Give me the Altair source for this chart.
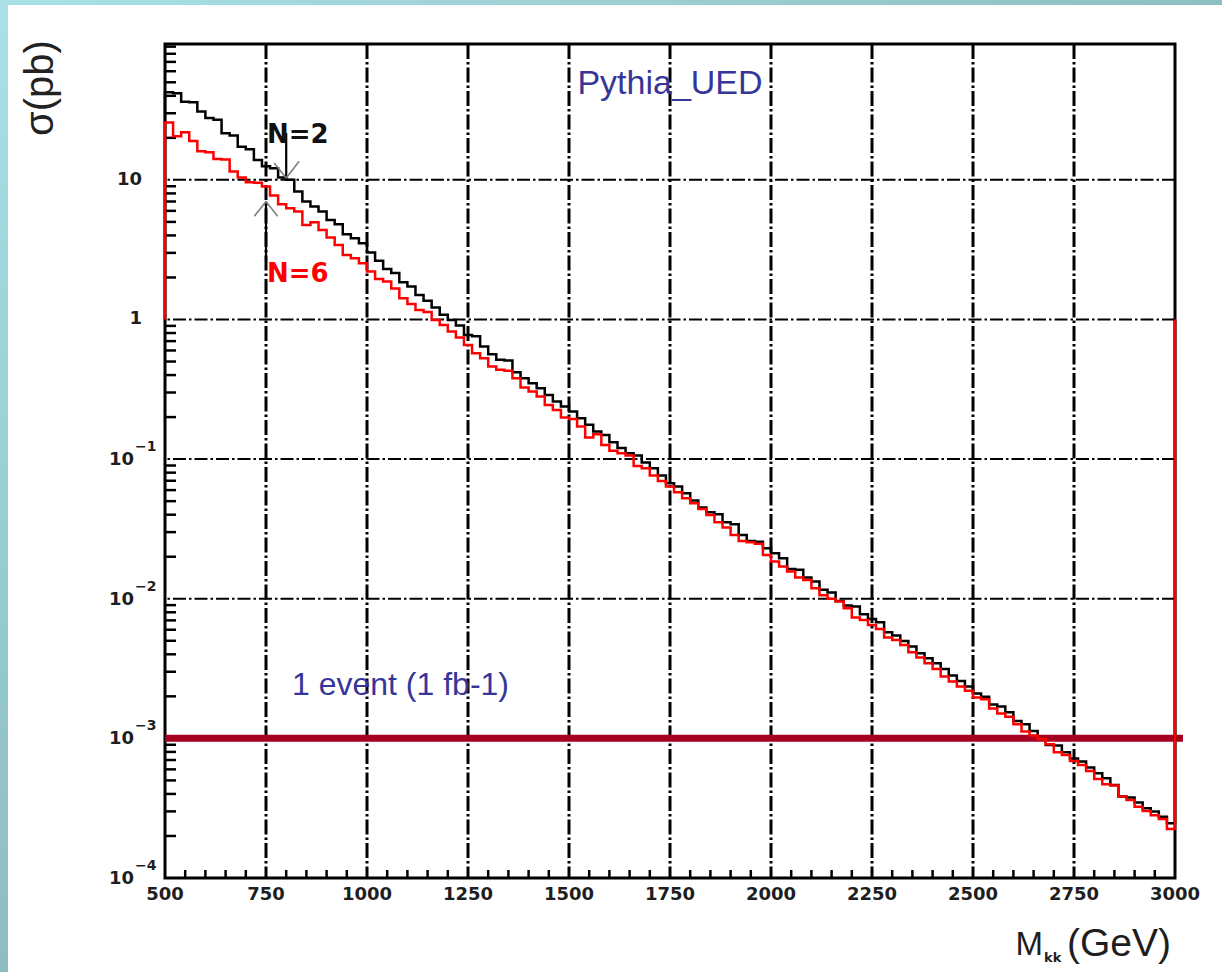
import altair as alt
import pandas as pd

# ---------------- data ----------------
bin_width = 20
bin_lo = list(range(500, 3000, bin_width))          # 125 bins, 500-3000 GeV

# N=2 (black) cross section per bin, pb
sigma_n2 = [
    42.5, 41.8, 36.3, 36.0, 30.9, 27.7, 26.9, 21.6, 20.8, 17.3,
    16.6, 13.9, 12.5, 12.1, 10.4, 10.0, 8.26, 7.00, 6.44, 5.94,
    5.17, 4.82, 4.08, 3.82, 3.52, 3.02, 2.63, 2.30, 2.15, 1.85,
    1.72, 1.50, 1.36, 1.22, 1.08, 0.993, 0.906, 0.776, 0.760, 0.641,
    0.564, 0.514, 0.508, 0.419, 0.380, 0.350, 0.322, 0.288, 0.259, 0.238,
    0.219, 0.196, 0.176, 0.158, 0.149, 0.132, 0.120, 0.110, 0.106, 0.0946,
    0.0861, 0.0764, 0.0673, 0.0637, 0.0570, 0.0505, 0.0450, 0.0417, 0.0403, 0.0353,
    0.0342, 0.0286, 0.0259, 0.0256, 0.0230, 0.0212, 0.0195, 0.0163, 0.0161, 0.0142,
    0.0133, 0.0116, 0.0111, 0.00964, 0.00893, 0.00879, 0.00774, 0.00716, 0.00679, 0.00575,
    0.00545, 0.00499, 0.00455, 0.00407, 0.00375, 0.00345, 0.00314, 0.00282, 0.00258, 0.00235,
    0.00210, 0.00199, 0.00175, 0.00169, 0.00154, 0.00133, 0.00126, 0.00113, 0.000991, 0.000897,
    0.000890, 0.000794, 0.000719, 0.000682, 0.000618, 0.000562, 0.000518, 0.000463, 0.000383, 0.000377,
    0.000348, 0.000316, 0.000299, 0.000275, 0.000247,
]

# N=6 (red) cross section per bin, pb
sigma_n6 = [
    25.8, 20.5, 21.9, 19.0, 16.0, 15.8, 14.1, 14.0, 11.5, 10.4,
    9.63, 9.55, 8.97, 7.73, 6.70, 6.27, 5.94, 4.76, 4.98, 4.38,
    3.87, 3.42, 2.90, 2.75, 2.53, 2.21, 1.95, 1.87, 1.67, 1.42,
    1.29, 1.17, 1.13, 0.993, 0.914, 0.820, 0.743, 0.658, 0.574, 0.528,
    0.460, 0.436, 0.430, 0.380, 0.326, 0.305, 0.281, 0.244, 0.225, 0.199,
    0.194, 0.171, 0.143, 0.151, 0.126, 0.115, 0.110, 0.106, 0.0893, 0.0861,
    0.0764, 0.0698, 0.0637, 0.0579, 0.0525, 0.0483, 0.0440, 0.0398, 0.0353, 0.0324,
    0.0286, 0.0259, 0.0254, 0.0248, 0.0206, 0.0185, 0.0170, 0.0157, 0.0142, 0.0136,
    0.0119, 0.0106, 0.00998, 0.00955, 0.00855, 0.00733, 0.00705, 0.00649, 0.00608, 0.00527,
    0.00507, 0.00467, 0.00414, 0.00379, 0.00345, 0.00314, 0.00277, 0.00255, 0.00235, 0.00219,
    0.00196, 0.00191, 0.00164, 0.00151, 0.00143, 0.00126, 0.00112, 0.00105, 0.000991, 0.000908,
    0.000794, 0.000760, 0.000689, 0.000644, 0.000583, 0.000512, 0.000469, 0.000459, 0.000383, 0.000362,
    0.000324, 0.000302, 0.000282, 0.000265, 0.000224,
]

x_tick_values = [500, 750, 1000, 1250, 1500, 1750, 2000, 2250, 2500, 2750, 3000]
x_tick_text = ["500", "750", "1000", "1250", "1500", "1750", "2000", "2250", "2500", "2750", "3000"]
y_plain_values = [1, 10]
y_plain_text = ["1", "10"]
y_exp_values = [1e-4, 1e-3, 1e-2, 1e-1]
y_exp_base = ["10", "10", "10", "10"]
y_exp_power = ["−4", "−3", "−2", "−1"]
x_grid = [750, 1000, 1250, 1500, 1750, 2000, 2250, 2500, 2750]
y_grid = [1e-3, 1e-2, 1e-1, 1, 10]
x_minor = [v for v in range(550, 3000, 50) if v % 250]
y_minor = [k * 10.0 ** e for e in range(-4, 2) for k in range(2, 10) if k * 10.0 ** e < 94]
one_event = [1e-3]
histo_base = 1.0

title_text = ["Pythia_UED"]
event_text = ["1 event (1 fb-1)"]

# annotation arrows (GeV, pb)
arrow_n2 = {"x": [800], "y": [21.6], "x2": [800], "y2": [10.3]}
arrow_n6 = {"x": [750], "y": [2.66], "x2": [750], "y2": [7.0]}
heads = {"x": [800, 800, 750, 750], "y": [10.3, 10.3, 7.0, 7.0],
         "x2": [770, 832, 721, 779], "y2": [13.2, 13.6, 5.5, 5.5]}

# ---------------- helpers ----------------
XS = alt.Scale(domain=[500, 3000], nice=False, zero=False)
YS = alt.Scale(type="log", domain=[1e-4, 94], nice=False)
LABEL_STYLE = dict(font="DejaVu Sans", fontWeight="bold", fontSize=18, color="#1e1e1e")


def step_frame(values):
    xs = [500] + bin_lo + [3000, 3000]
    ys = [histo_base] + values + [values[-1], histo_base]
    return pd.DataFrame({"m": xs, "s": ys, "idx": list(range(len(xs)))})


# ---------------- layers ----------------
grad_v = alt.LinearGradient(gradient="linear",
                            stops=[alt.GradientStop(offset=0, color="#a9e1e6"),
                                   alt.GradientStop(offset=1, color="#8cbdc1")],
                            x1=0, x2=0, y1=0, y2=1)
grad_h = alt.LinearGradient(gradient="linear",
                            stops=[alt.GradientStop(offset=0, color="#a9e1e6"),
                                   alt.GradientStop(offset=1, color="#8dbfc3")],
                            x1=0, x2=1, y1=0, y2=0)
one = pd.DataFrame({"k": [0]})
band_left = alt.Chart(one).mark_rect(fill=grad_v).encode(
    x=alt.value(-165), x2=alt.value(-157), y=alt.value(-44), y2=alt.value(928))
band_top = alt.Chart(one).mark_rect(fill=grad_h).encode(
    x=alt.value(-165), x2=alt.value(1057), y=alt.value(-44), y2=alt.value(-39))

hist_n2 = alt.Chart(step_frame(sigma_n2)).mark_line(
    interpolate="step-after", color="black", strokeWidth=2.5, strokeJoin="miter").encode(
    x=alt.X("m:Q", scale=XS, axis=None),
    y=alt.Y("s:Q", scale=YS, axis=None),
    order=alt.Order("idx:Q"))
hist_n6 = alt.Chart(step_frame(sigma_n6)).mark_line(
    interpolate="step-after", color="#ff0000", strokeWidth=2.5, strokeJoin="miter").encode(
    x=alt.X("m:Q", scale=XS, axis=None), y=alt.Y("s:Q", scale=YS, axis=None),
    order=alt.Order("idx:Q"))

grid_v = alt.Chart(pd.DataFrame({"gx": x_grid})).mark_rule(
    color="black", strokeWidth=3, strokeDash=[15, 3, 2.5, 3]).encode(
    x=alt.X("gx:Q", scale=XS, axis=None))
grid_h = alt.Chart(pd.DataFrame({"gy": y_grid})).mark_rule(
    color="black", strokeWidth=2, strokeDash=[13, 3, 2.5, 3]).encode(
    y=alt.Y("gy:Q", scale=YS, axis=None))

ticks_x = alt.Chart(pd.DataFrame({"tx": x_minor})).mark_rule(
    color="black", strokeWidth=2.5).encode(
    x=alt.X("tx:Q", scale=XS, axis=None), y=alt.value(826), y2=alt.value(834))
ticks_y = alt.Chart(pd.DataFrame({"ty": y_minor})).mark_rule(
    color="black", strokeWidth=2.5).encode(
    y=alt.Y("ty:Q", scale=YS, axis=None), x=alt.value(0), x2=alt.value(11))

# tick labels, placed through the scales
lab_x = alt.Chart(pd.DataFrame({"v": x_tick_values, "t": x_tick_text})).mark_text(
    align="center", baseline="top", **LABEL_STYLE).encode(
    x=alt.X("v:Q", scale=XS, axis=None), y=alt.value(842), text="t:N")
lab_y_plain = alt.Chart(pd.DataFrame({"v": y_plain_values, "t": y_plain_text})).mark_text(
    align="right", baseline="middle", **LABEL_STYLE).encode(
    y=alt.Y("v:Q", scale=YS, axis=None), x=alt.value(-23), text="t:N")
lab_y_base = alt.Chart(pd.DataFrame({"v": y_exp_values, "t": y_exp_base})).mark_text(
    align="right", baseline="middle", dy=1, **LABEL_STYLE).encode(
    y=alt.Y("v:Q", scale=YS, axis=None), x=alt.value(-31), text="t:N")
lab_y_pow = alt.Chart(pd.DataFrame({"v": y_exp_values, "t": y_exp_power})).mark_text(
    align="left", baseline="middle", dy=-12, font="DejaVu Sans", fontWeight="bold",
    fontSize=14, color="#1e1e1e").encode(
    y=alt.Y("v:Q", scale=YS, axis=None), x=alt.value(-30), text="t:N")

bar = alt.Chart(pd.DataFrame({"lim": one_event})).mark_rule(
    color="#a50021", strokeWidth=7).encode(
    y=alt.Y("lim:Q", scale=YS, axis=None), x=alt.value(0), x2=alt.value(1018))


def arrow_rule(d, color, width):
    return alt.Chart(pd.DataFrame(d)).mark_rule(color=color, strokeWidth=width).encode(
        x=alt.X("x:Q", scale=XS, axis=None), x2="x2:Q",
        y=alt.Y("y:Q", scale=YS, axis=None), y2="y2:Q")


arr2 = arrow_rule(arrow_n2, "black", 2.2)
arr6 = arrow_rule(arrow_n6, "black", 2.2)
arrh = arrow_rule(heads, "#7f7f7f", 1.6)


def label(text, px, py, **kw):
    return alt.Chart(pd.DataFrame({"t": text})).mark_text(**kw).encode(
        text="t:N", x=alt.value(px), y=alt.value(py))


t_title = label(title_text, 505, 50, font="Liberation Sans", fontSize=34, color="#363699",
                align="center", baseline="alphabetic")
t_event = label(event_text, 127, 651, font="Liberation Sans", fontSize=32, color="#363699",
                align="left", baseline="alphabetic")
t_n2 = label(["N=2"], 102, 99, font="DejaVu Sans", fontWeight="bold", fontSize=26,
             color="#111111", align="left", baseline="alphabetic")
t_n6 = label(["N=6"], 102, 238, font="DejaVu Sans", fontWeight="bold", fontSize=26,
             color="#ff0000", align="left", baseline="alphabetic")
t_sig = label(["σ(pb)"], -124, 44, font="Liberation Sans", fontSize=40, color="#222222",
              align="center", baseline="middle", angle=270)
t_m = label(["M"], 878, 911, font="Liberation Sans", fontSize=33, color="#1e1e1e",
            align="right", baseline="alphabetic")
t_kk = label(["kk"], 879, 918, font="DejaVu Sans", fontWeight="bold", fontSize=13,
             color="#1e1e1e", align="left", baseline="alphabetic")
t_gev = label(["(GeV)"], 902, 912, font="Liberation Sans", fontSize=39, color="#1e1e1e",
              align="left", baseline="alphabetic")

chart = alt.layer(
    band_left, band_top, grid_v, grid_h, ticks_x, ticks_y,
    hist_n2, bar, arr2, arr6, arrh, hist_n6,
    lab_x, lab_y_plain, lab_y_base, lab_y_pow,
    t_title, t_event, t_n2, t_n6, t_sig, t_m, t_kk, t_gev,
).properties(
    width=1010, height=834,
    autosize=alt.AutoSizeParams(type="none"),
    padding={"left": 165, "top": 44, "right": 47, "bottom": 94},
    background="white",
).configure_view(stroke="black", strokeWidth=3)

chart.save("out.html", embed_options={"renderer": "svg", "actions": False})
